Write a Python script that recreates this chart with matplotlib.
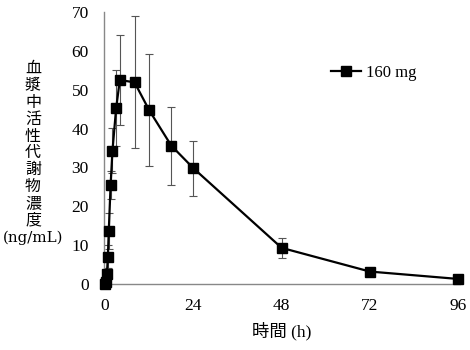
import matplotlib
matplotlib.use('Agg')
import matplotlib.pyplot as plt

plt.rcParams['font.family'] = ['Liberation Serif', 'Noto Sans CJK JP']

# time after dose (h), mean concentration and SD
hours = [0, 0.25, 0.5, 0.75, 1, 1.5, 2, 3, 4, 8, 12, 18, 24, 48, 72, 96]
conc = [0.0, 0.5, 2.7, 7.0, 13.7, 25.6, 34.3, 45.2, 52.5, 51.9, 44.7, 35.6, 29.8, 9.3, 3.2, 1.3]
sd = [0.0, 0.3, 1.5, 3.0, 4.6, 3.6, 5.8, 9.8, 11.5, 17.0, 14.4, 10.0, 7.1, 2.5, 0.0, 0.0]
series_label = '160 mg'
xticks = [0, 24, 48, 72, 96]
yticks = [0, 10, 20, 30, 40, 50, 60, 70]
ylabel_chars = '血漿中活性代謝物濃度'
ylabel_unit = '(ng/mL)'

fig = plt.figure(figsize=(4.7, 3.5), dpi=100)
ax = fig.add_axes([104 / 470, 66 / 350, 356 / 470, 272 / 350])

ax.errorbar(hours, conc, yerr=sd, fmt='none', ecolor='#555555',
            elinewidth=0.8, capsize=3, capthick=0.8, zorder=2)
ax.plot(hours, conc, color='black', lw=1.6, marker='s', markersize=7.8,
        label=series_label, clip_on=False, zorder=3)

ax.set_xlim(-0.3, 96.5)
ax.set_ylim(0, 70)
ax.set_xticks(xticks)
ax.set_yticks(yticks)
ax.tick_params(length=0, labelsize=12.5)
ax.tick_params(axis='y', pad=11)
ax.tick_params(axis='x', pad=10)

for s in ['top', 'right']:
    ax.spines[s].set_visible(False)
for s in ['left', 'bottom']:
    ax.spines[s].set_color('#888888')
    ax.spines[s].set_linewidth(1.0)

ax.set_xlabel('時間 (h)', fontsize=12.5, labelpad=6)

# stacked vertical y label, unit on its own line below
fig.text(33 / 470, 1 - 145 / 350, '\n'.join(list(ylabel_chars)),
         ha='center', va='center', fontsize=11.5, linespacing=1.07)
fig.text(33 / 470, 1 - 238 / 350, ylabel_unit, ha='center', va='center',
         fontsize=10.8, family=['DejaVu Serif'])

leg = ax.legend(loc='upper left', bbox_to_anchor=(0.595, 0.86), frameon=False,
                fontsize=12, handlelength=1.8, handletextpad=0.3)

fig.savefig('out.png', dpi=100)
